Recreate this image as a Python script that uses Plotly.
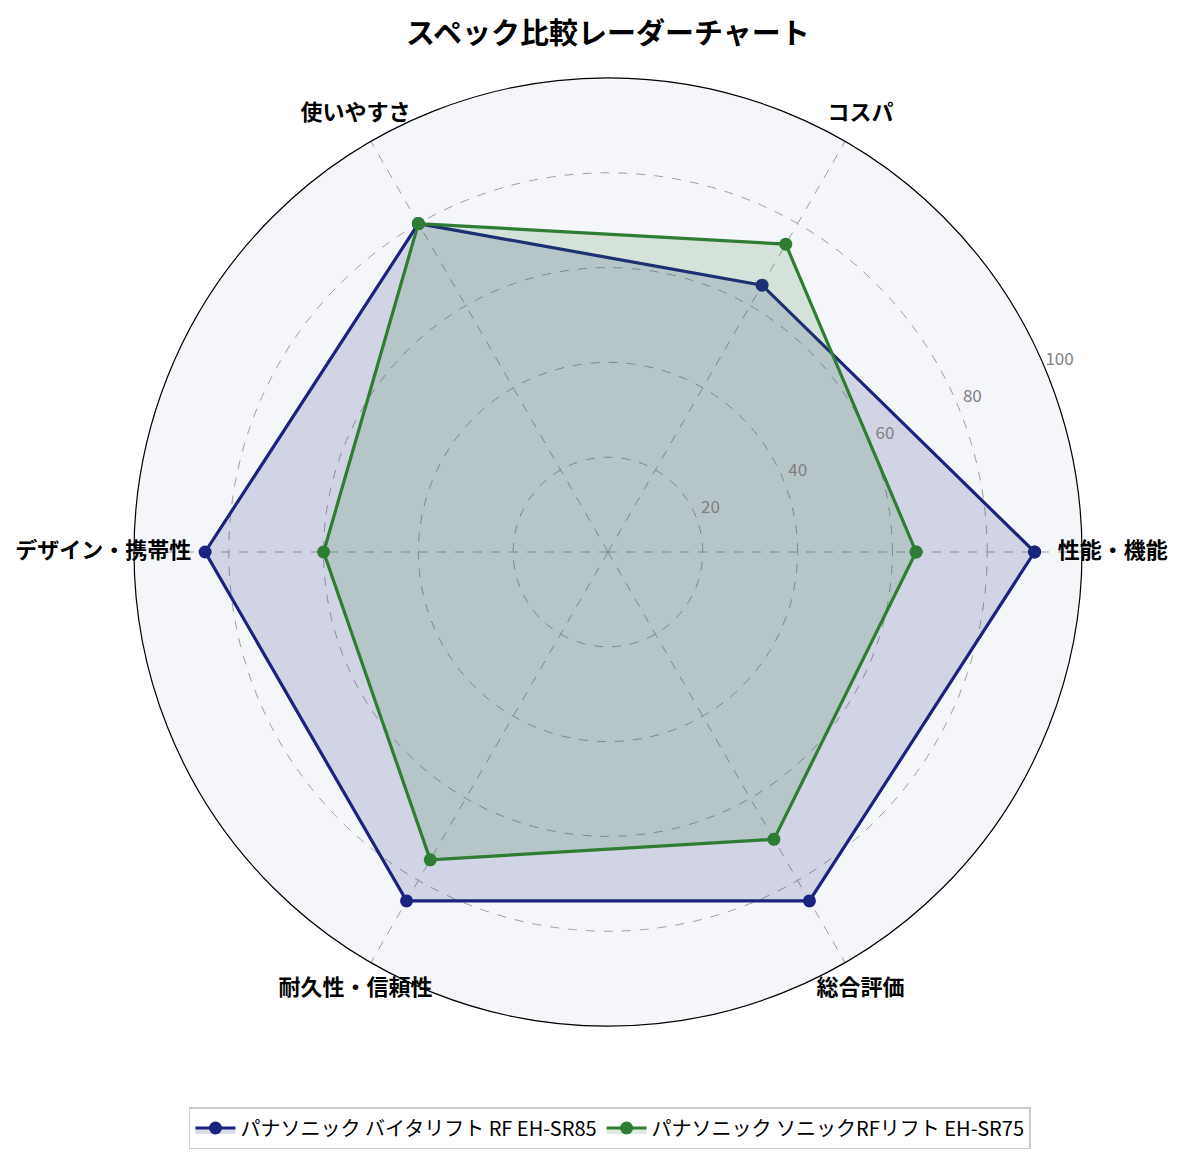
import plotly.graph_objects as go

categories = ["性能・機能", "コスパ", "使いやすさ", "デザイン・携帯性", "耐久性・信頼性", "総合評価"]
series_names = ["パナソニック バイタリフト RF EH-SR85", "パナソニック ソニックRFリフト EH-SR75"]
values_sr85 = [90, 65, 80, 85, 85, 85]
values_sr75 = [65, 75, 80, 60, 75, 70]
radial_ticks = [20, 40, 60, 80, 100]

colors = ["#1a237e", "#2e7d32"]
fills = ["rgba(26,35,126,0.16)", "rgba(46,125,50,0.16)"]

n = len(categories)
angles = [i * 360 / n for i in range(n)]

font_family = "Noto Sans CJK JP, Noto Sans, sans-serif"

# main polar: circle radius 474 px centred at (600, 544) in paper px
W, H = 1185, 1161
CX, CY, R1 = 600, 544, 474
R2 = 540  # overlay polar for labels, same px-per-unit scale
RMAX = 100

fig = go.Figure()
for name, vals, c, f in zip(series_names, [values_sr85, values_sr75], colors, fills):
    fig.add_trace(go.Scatterpolar(
        r=vals + vals[:1],
        theta=angles + angles[:1],
        mode="lines+markers",
        name=name,
        line=dict(color=c, width=3.2),
        marker=dict(color=c, size=13),
        fill="toself",
        fillcolor=f,
        subplot="polar",
    ))

# category labels placed just outside the outer circle (overlay polar, same scale)
fig.add_trace(go.Scatterpolar(
    r=[106.5] * n, theta=angles, mode="text", text=categories,
    textfont=dict(size=22, color="black", family=font_family, weight="bold"),
    showlegend=False, hoverinfo="skip", cliponaxis=False, subplot="polar2",
))
# radial tick labels along 23 degrees
fig.add_trace(go.Scatterpolar(
    r=[t + 3.5 for t in radial_ticks], theta=[23] * len(radial_ticks), mode="text",
    text=[str(t) for t in radial_ticks],
    textfont=dict(size=17, color="#808080", family=font_family),
    showlegend=False, hoverinfo="skip", cliponaxis=False, subplot="polar2",
))

ycb = H - CY
fig.update_layout(
    width=W, height=H,
    margin=dict(l=0, r=0, t=0, b=0),
    paper_bgcolor="white",
    font=dict(family=font_family, color="black"),
    title=dict(text="<b>スペック比較レーダーチャート</b>", x=0.5063, xanchor="center",
               y=0.978, yanchor="middle", font=dict(size=29, color="black")),
    polar=dict(
        domain=dict(x=[(CX - R1) / W, (CX + R1) / W], y=[(ycb - R1) / H, (ycb + R1) / H]),
        bgcolor="#f5f6fa",
        angularaxis=dict(
            direction="counterclockwise", rotation=0, thetaunit="degrees",
            tickmode="array", tickvals=angles, showticklabels=False,
            showline=True, linecolor="black", linewidth=1.2,
            gridcolor="#a0a0a0", griddash="dash", gridwidth=0.8,
            ticks="",
        ),
        radialaxis=dict(
            range=[0, RMAX], tickvals=radial_ticks, showticklabels=False,
            showline=False, ticks="",
            gridcolor="#a0a0a0", griddash="dash", gridwidth=0.8,
        ),
    ),
    polar2=dict(
        domain=dict(x=[(CX - R2) / W, (CX + R2) / W], y=[(ycb - R2) / H, (ycb + R2) / H]),
        bgcolor="rgba(0,0,0,0)",
        angularaxis=dict(direction="counterclockwise", rotation=0, thetaunit="degrees",
                         visible=False, showgrid=False, showline=False),
        radialaxis=dict(range=[0, RMAX * R2 / R1], visible=False, showgrid=False, showline=False),
    ),
    legend=dict(orientation="h", x=0.508, xanchor="center", y=0.0353, yanchor="middle",
                bordercolor="#cccccc", borderwidth=1.5, bgcolor="white",
                itemwidth=40,
                font=dict(size=20, color="black")),
)

fig.write_html("out.html")
